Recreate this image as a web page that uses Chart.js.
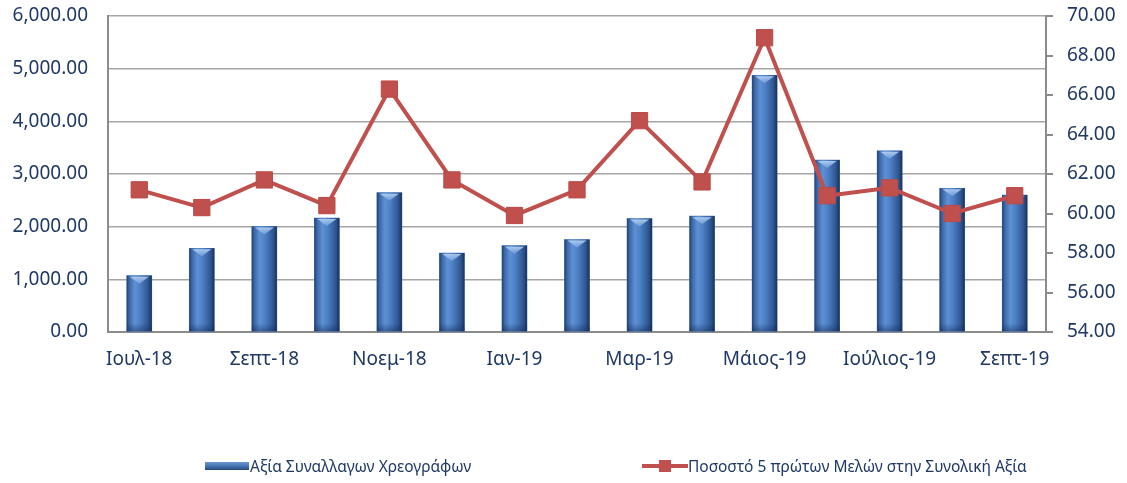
<!DOCTYPE html>
<html>
<head>
<meta charset="utf-8">
<script src="https://cdn.jsdelivr.net/npm/chart.js@4.4.1/dist/chart.umd.min.js"></script>
<style>
html,body{margin:0;padding:0;background:#ffffff;}
#wrap{position:relative;width:1127px;height:483px;overflow:hidden;}
#c{position:absolute;left:0;top:0;}
.leg{position:absolute;top:457px;height:18px;display:flex;align-items:center;font-family:"Noto Sans",sans-serif;font-size:15.5px;color:#1F3864;white-space:nowrap;}
.sw1{display:inline-block;width:44px;height:8px;background:linear-gradient(to bottom,#6b95cf 0%,#4a78b8 45%,#27487c 100%);margin-right:1px;}
.sw2{position:relative;display:inline-block;width:46px;height:18px;margin-right:0px;}
.sw2 .ln{position:absolute;left:0;top:7px;width:46px;height:4px;background:#C0504D;}
.sw2 .sq{position:absolute;left:17px;top:3px;width:12px;height:12px;background:#C0504D;}
</style>
</head>
<body>
<div id="wrap">
<canvas id="c" width="1127" height="483"></canvas>
<div class="leg" id="leg1" style="left:205px"><span class="sw1"></span><span id="t1"></span></div>
<div class="leg" id="leg2" style="left:642px"><span class="sw2"><span class="ln"></span><span class="sq"></span></span><span id="t2"></span></div>
</div>
<script>
// ---- data ----
const categories = ['Ιουλ-18','Αυγ-18','Σεπτ-18','Οκτ-18','Νοεμ-18','Δεκ-18','Ιαν-19','Φεβ-19','Μαρ-19','Απρ-19','Μάιος-19','Ιούνιος-19','Ιούλιος-19','Αύγουστος-19','Σεπτ-19'];
const tradeValue = [1070, 1590, 2005, 2165, 2645, 1500, 1640, 1755, 2155, 2200, 4875, 3265, 3440, 2730, 2600];
const top5Share = [61.2, 60.3, 61.7, 60.4, 66.3, 61.7, 59.9, 61.2, 64.7, 61.6, 68.9, 60.9, 61.3, 60.0, 60.9];
const leftTicks = [0, 1000, 2000, 3000, 4000, 5000, 6000];
const rightTicks = [54, 56, 58, 60, 62, 64, 66, 68, 70];
const seriesNames = ['Αξία Συναλλαγων Χρεογράφων', 'Ποσοστό 5 πρώτων Μελών στην Συνολική Αξία'];

document.getElementById('t1').textContent = seriesNames[0];
document.getElementById('t2').textContent = seriesNames[1];

const TEXT = '#1F3864';
const AXIS = '#8c8c8c';
const fmt = v => Number(v).toLocaleString('en-US', {minimumFractionDigits: 2, maximumFractionDigits: 2});

const barShade = {
  id: 'barShade',
  afterDatasetDraw(chart, args) {
    if (args.index !== 0) return;
    const ctx = chart.ctx;
    ctx.save();
    args.meta.data.forEach(el => {
      const p = el.getProps(['x', 'y', 'base', 'width'], true);
      const l = p.x - p.width / 2, r = p.x + p.width / 2;
      const g = ctx.createLinearGradient(l, 0, r, 0);
      g.addColorStop(0, '#22406d');
      g.addColorStop(0.1, '#3b67a6');
      g.addColorStop(0.32, '#5d91d4');
      g.addColorStop(0.55, '#4b7dc2');
      g.addColorStop(0.85, '#2e5692');
      g.addColorStop(1, '#1b3257');
      ctx.fillStyle = g;
      ctx.fillRect(l, p.y, p.width, p.base - p.y);
      const cg = ctx.createLinearGradient(0, p.y, 0, p.y + 9);
      cg.addColorStop(0, 'rgba(190,215,245,0.95)');
      cg.addColorStop(1, 'rgba(120,165,225,0.6)');
      ctx.fillStyle = cg;
      ctx.beginPath();
      ctx.moveTo(l + 3, p.y + 1);
      ctx.lineTo(r - 3, p.y + 1);
      ctx.lineTo(p.x, p.y + 8);
      ctx.closePath();
      ctx.fill();
      const bg = ctx.createLinearGradient(0, p.base - 8, 0, p.base);
      bg.addColorStop(0, 'rgba(20,40,80,0)');
      bg.addColorStop(1, 'rgba(20,40,80,0.45)');
      ctx.fillStyle = bg;
      ctx.fillRect(l, p.base - 8, p.width, 8);
    });
    ctx.restore();
  }
};

new Chart(document.getElementById('c'), {
  data: {
    labels: categories,
    datasets: [
      {
        type: 'bar',
        label: seriesNames[0],
        data: tradeValue,
        yAxisID: 'y',
        backgroundColor: '#4a7cc0',
        barThickness: 25,
        order: 2
      },
      {
        type: 'line',
        label: seriesNames[1],
        data: top5Share,
        yAxisID: 'y1',
        borderColor: '#C0504D',
        borderWidth: 4,
        pointStyle: 'rect',
        pointRadius: 11.5,
        pointHoverRadius: 11.5,
        pointBackgroundColor: '#C0504D',
        pointBorderColor: '#b84a47',
        pointBorderWidth: 1,
        tension: 0,
        order: 1
      }
    ]
  },
  options: {
    responsive: false,
    animation: false,
    devicePixelRatio: 1,
    layout: {padding: {top: 16, left: 0, right: 0, bottom: 101}},
    plugins: {legend: {display: false}, tooltip: {enabled: false}},
    scales: {
      x: {
        offset: true,
        grid: {display: false, drawTicks: false},
        border: {display: true, color: AXIS, width: 2},
        ticks: {
          autoSkip: false, maxRotation: 0, minRotation: 0, padding: 16,
          color: TEXT, font: {family: 'Noto Sans', size: 19},
          callback: (v, i) => (i % 2 === 0 ? categories[i] : '')
        },
        afterFit: s => { s.height = 50; s.paddingLeft = 0; s.paddingRight = 0; }
      },
      y: {
        position: 'left',
        min: leftTicks[0], max: leftTicks[leftTicks.length - 1],
        afterBuildTicks: s => { s.ticks = leftTicks.map(v => ({value: v})); },
        grid: {color: '#a6a6a6', lineWidth: 1.5, drawTicks: false},
        border: {display: true, color: AXIS, width: 2},
        ticks: {padding: 20, color: TEXT, font: {family: 'Noto Sans', size: 19}, callback: v => fmt(v)},
        afterFit: s => { s.width = 108; s.paddingTop = 0; s.paddingBottom = 0; }
      },
      y1: {
        position: 'right',
        min: rightTicks[0], max: rightTicks[rightTicks.length - 1],
        afterBuildTicks: s => { s.ticks = rightTicks.map(v => ({value: v})); },
        grid: {drawOnChartArea: false, color: AXIS, lineWidth: 2, tickLength: 7},
        border: {display: true, color: AXIS, width: 2},
        ticks: {padding: 14, color: TEXT, font: {family: 'Noto Sans', size: 19}, callback: v => fmt(v)},
        afterFit: s => { s.width = 81; s.paddingTop = 0; s.paddingBottom = 0; }
      }
    }
  },
  plugins: [barShade]
});
</script>
</body>
</html>
